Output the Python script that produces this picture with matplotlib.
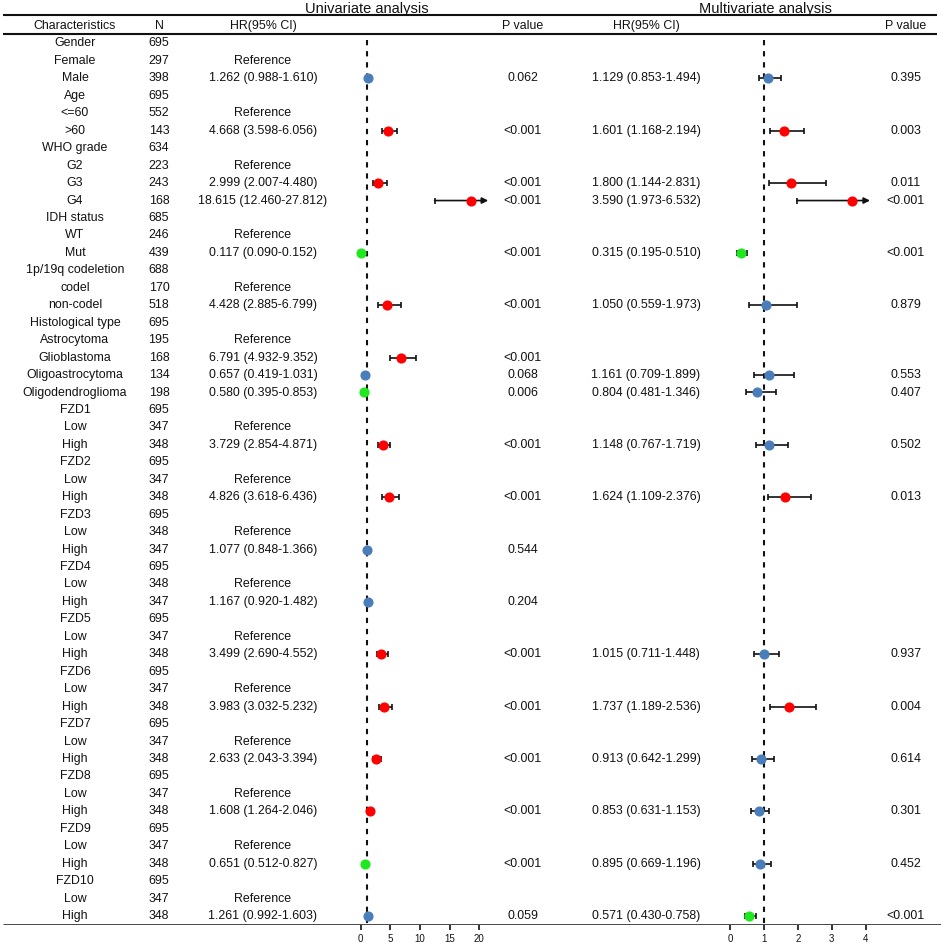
import numpy as np
import matplotlib
matplotlib.use("Agg")
import matplotlib.pyplot as plt

plt.rcParams['font.family'] = ['Liberation Sans', 'DejaVu Sans']
plt.rcParams['lines.scale_dashes'] = False

# ---- table data ----
labels = ["Gender", "Female", "Male", "Age", "<=60", ">60",
          "WHO grade", "G2", "G3", "G4",
          "IDH status", "WT", "Mut",
          "1p/19q codeletion", "codel", "non-codel",
          "Histological type", "Astrocytoma", "Glioblastoma",
          "Oligoastrocytoma", "Oligodendroglioma",
          "FZD1", "Low", "High", "FZD2", "Low", "High",
          "FZD3", "Low", "High", "FZD4", "Low", "High",
          "FZD5", "Low", "High", "FZD6", "Low", "High",
          "FZD7", "Low", "High", "FZD8", "Low", "High",
          "FZD9", "Low", "High", "FZD10", "Low", "High"]
n_vals = [695, 297, 398, 695, 552, 143, 634, 223, 243, 168,
          685, 246, 439, 688, 170, 518, 695, 195, 168, 134, 198,
          695, 347, 348, 695, 347, 348, 695, 348, 347, 695, 348, 347,
          695, 347, 348, 695, 347, 348, 695, 347, 348, 695, 347, 348,
          695, 347, 348, 695, 347, 348]
ref_rows = [1, 4, 7, 11, 14, 17, 22, 25, 28, 31, 34, 37, 40, 43, 46, 49]

# rows that carry an estimate
est_rows = [2, 5, 8, 9, 12, 15, 18, 19, 20, 23, 26, 29, 32, 35, 38, 41, 44, 47, 50]

uni_hr = [1.262, 4.668, 2.999, 18.615, 0.117, 4.428, 6.791, 0.657, 0.580, 3.729,
          4.826, 1.077, 1.167, 3.499, 3.983, 2.633, 1.608, 0.651, 1.261]
uni_lo = [0.988, 3.598, 2.007, 12.460, 0.090, 2.885, 4.932, 0.419, 0.395, 2.854,
          3.618, 0.848, 0.920, 2.690, 3.032, 2.043, 1.264, 0.512, 0.992]
uni_hi = [1.610, 6.056, 4.480, 27.812, 0.152, 6.799, 9.352, 1.031, 0.853, 4.871,
          6.436, 1.366, 1.482, 4.552, 5.232, 3.394, 2.046, 0.827, 1.603]
uni_p = ["0.062", "<0.001", "<0.001", "<0.001", "<0.001", "<0.001", "<0.001",
         "0.068", "0.006", "<0.001", "<0.001", "0.544", "0.204", "<0.001",
         "<0.001", "<0.001", "<0.001", "<0.001", "0.059"]

nan = np.nan
multi_hr = [1.129, 1.601, 1.800, 3.590, 0.315, 1.050, nan, 1.161, 0.804, 1.148,
            1.624, nan, nan, 1.015, 1.737, 0.913, 0.853, 0.895, 0.571]
multi_lo = [0.853, 1.168, 1.144, 1.973, 0.195, 0.559, nan, 0.709, 0.481, 0.767,
            1.109, nan, nan, 0.711, 1.189, 0.642, 0.631, 0.669, 0.430]
multi_hi = [1.494, 2.194, 2.831, 6.532, 0.510, 1.973, nan, 1.899, 1.346, 1.719,
            2.376, nan, nan, 1.448, 2.536, 1.299, 1.153, 1.196, 0.758]
multi_p = ["0.395", "0.003", "0.011", "<0.001", "<0.001", "0.879", "", "0.553",
           "0.407", "0.502", "0.013", "", "", "0.937", "0.004", "0.614", "0.301",
           "0.452", "<0.001"]

uni_ticks = [0, 5, 10, 15, 20]
multi_ticks = [0, 1, 2, 3, 4]

RED = "#ff0000"
GREEN = "#1ee81e"
BLUE = "#4a7ebb"
INK = "#111111"

W, H = 941, 947
row0_px, row_h = 43.5, 17.45
bottom_px = 925
y_top = -row0_px / row_h
y_bot = (bottom_px - row0_px) / row_h

fig = plt.figure(figsize=(W / 100, H / 100), dpi=100)
ax_rect_y = (H - bottom_px) / H
ax_rect_h = bottom_px / H

# table axes, x in pixel columns, y in rows
ax = fig.add_axes([0, ax_rect_y, 1, ax_rect_h])
ax.set_xlim(0, W)
ax.set_ylim(y_bot, y_top)
ax.axis('off')

fs = 8.9
col_char, col_n, col_uhr, col_up, col_mhr, col_mp = 75, 159, 263, 523, 646, 906

def ypx(p):
    return (p - row0_px) / row_h

ax.text(367, ypx(9.5), "Univariate analysis", ha='center', va='center', fontsize=10.5, color=INK)
ax.text(765, ypx(9.5), "Multivariate analysis", ha='center', va='center', fontsize=10.5, color=INK)
for x, s in [(col_char, "Characteristics"), (col_n, "N"), (col_uhr, "HR(95% CI)"),
             (col_up, "P value"), (col_mhr, "HR(95% CI)"), (col_mp, "P value")]:
    ax.text(x, ypx(25.7), s, ha='center', va='center', fontsize=fs, color=INK)
for p in [15.5, 34.5]:
    ax.hlines(ypx(p), 3, 937, color=INK, lw=1.5)
ax.hlines(y_bot - 0.02, 3, W, color=INK, lw=1.8)

for i, (lab, n) in enumerate(zip(labels, n_vals)):
    ax.text(col_char, i, lab, ha='center', va='center', fontsize=fs, color=INK)
    ax.text(col_n, i, str(n), ha='center', va='center', fontsize=fs, color=INK)
for i in ref_rows:
    ax.text(col_uhr, i, "Reference", ha='center', va='center', fontsize=fs, color=INK)


def fmt(h, l, u):
    return f"{h:.3f} ({l:.3f}-{u:.3f})"


def colour(h, p):
    pv = float(p.lstrip('<'))
    if pv < 0.05:
        return RED if h > 1 else GREEN
    return BLUE


def forest(left_px, xlim, ticks, hrs, los, his, ps, col_hr, col_p, cap):
    x0, x1 = xlim
    scale = {True: 5.93, False: 33.9}[ticks[-1] == 20]
    zero_px = left_px
    fa = fig.add_axes([(zero_px + x0 * scale) / W, ax_rect_y,
                       (x1 - x0) * scale / W, ax_rect_h])
    fa.set_xlim(x0, x1)
    fa.set_ylim(y_bot, y_top)
    fa.patch.set_alpha(0)
    for s in fa.spines.values():
        s.set_visible(False)
    fa.set_yticks([])
    fa.set_xticks(ticks)
    fa.tick_params(axis='x', length=3.5, width=1.2, direction='out', pad=3,
                   labelsize=7, colors=INK)
    fa.vlines(1, -0.2, y_bot, colors=INK, lw=1.5, linestyles=(0, (3.8, 4.2)), zorder=1)
    for r, h, l, u, p in zip(est_rows, hrs, los, his, ps):
        if np.isnan(h):
            continue
        c = colour(h, p)
        ax.text(col_hr, r, fmt(h, l, u), ha='center', va='center', fontsize=fs, color=INK)
        ax.text(col_p, r, p, ha='center', va='center', fontsize=fs, color=INK)
        fa.plot([l], [r], marker='|', ms=5, mew=1.2, color=INK, zorder=2)
        if u > cap:
            fa.annotate('', xy=(cap, r), xytext=(l, r),
                        arrowprops=dict(arrowstyle='-|>', color=INK, lw=1.2,
                                        mutation_scale=9, shrinkA=0, shrinkB=0),
                        zorder=2)
        else:
            fa.hlines(r, l, u, colors=INK, lw=1.2, zorder=2)
            fa.plot([u], [r], marker='|', ms=5, mew=1.2, color=INK, zorder=2)
        fa.plot([h], [r], marker='o', ms=6.3, color=c, mec=c, zorder=3)
    return fa


forest(360.7, (-2, 22.5), uni_ticks, uni_hr, uni_lo, uni_hi, uni_p, col_uhr, col_up, 21.5)
forest(730.0, (-0.5, 4.5), multi_ticks, multi_hr, multi_lo, multi_hi, multi_p, col_mhr, col_mp, 4.13)

fig.savefig("out.png", dpi=100)
